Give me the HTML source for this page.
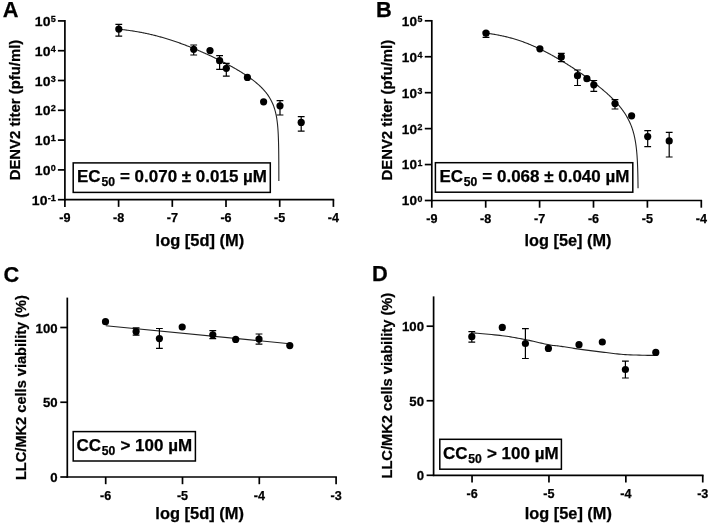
<!DOCTYPE html>
<html><head><meta charset="utf-8"><style>
html,body{margin:0;padding:0;background:#fff;}
body{width:710px;height:524px;overflow:hidden;}
svg{display:block;filter:blur(0.35px);}
text{font-family:"Liberation Sans", sans-serif;font-weight:bold;fill:#000;stroke:#000;stroke-width:0.25px;}
</style></head><body>
<svg width="710" height="524" viewBox="0 0 710 524">
<rect width="710" height="524" fill="#fff"/>
<text transform="translate(2.80,17.30)" font-size="21.8" text-anchor="start">A</text>
<text transform="translate(20.00,110.05) rotate(-90)" font-size="15.2" text-anchor="middle" textLength="140.6" lengthAdjust="spacingAndGlyphs">DENV2 titer (pfu/ml)</text>
<line x1="57.90" y1="20.90" x2="64.90" y2="20.90" stroke="#000" stroke-width="1.7"/>
<text transform="translate(55.80,25.90) scale(1.03,1)" font-size="13.6" text-anchor="end">10<tspan font-size="8.8" dx="0.3" dy="-4.0">5</tspan></text>
<line x1="57.90" y1="50.70" x2="64.90" y2="50.70" stroke="#000" stroke-width="1.7"/>
<text transform="translate(55.80,55.70) scale(1.03,1)" font-size="13.6" text-anchor="end">10<tspan font-size="8.8" dx="0.3" dy="-4.0">4</tspan></text>
<line x1="57.90" y1="80.50" x2="64.90" y2="80.50" stroke="#000" stroke-width="1.7"/>
<text transform="translate(55.80,85.50) scale(1.03,1)" font-size="13.6" text-anchor="end">10<tspan font-size="8.8" dx="0.3" dy="-4.0">3</tspan></text>
<line x1="57.90" y1="110.30" x2="64.90" y2="110.30" stroke="#000" stroke-width="1.7"/>
<text transform="translate(55.80,115.30) scale(1.03,1)" font-size="13.6" text-anchor="end">10<tspan font-size="8.8" dx="0.3" dy="-4.0">2</tspan></text>
<line x1="57.90" y1="140.10" x2="64.90" y2="140.10" stroke="#000" stroke-width="1.7"/>
<text transform="translate(55.80,145.10) scale(1.03,1)" font-size="13.6" text-anchor="end">10<tspan font-size="8.8" dx="0.3" dy="-4.0">1</tspan></text>
<line x1="57.90" y1="169.90" x2="64.90" y2="169.90" stroke="#000" stroke-width="1.7"/>
<text transform="translate(55.80,174.90) scale(1.03,1)" font-size="13.6" text-anchor="end">10<tspan font-size="8.8" dx="0.3" dy="-4.0">0</tspan></text>
<line x1="57.90" y1="199.70" x2="64.90" y2="199.70" stroke="#000" stroke-width="1.7"/>
<text transform="translate(55.80,204.70) scale(1.03,1)" font-size="13.6" text-anchor="end">10<tspan font-size="8.8" dx="0.3" dy="-4.0">-1</tspan></text>
<line x1="64.90" y1="20.10" x2="64.90" y2="200.50" stroke="#000" stroke-width="1.7"/>
<line x1="64.10" y1="199.70" x2="334.20" y2="199.70" stroke="#000" stroke-width="1.7"/>
<line x1="64.90" y1="199.70" x2="64.90" y2="206.90" stroke="#000" stroke-width="1.7"/>
<text transform="translate(64.90,222.00)" font-size="12.6" text-anchor="middle">-9</text>
<line x1="118.60" y1="199.70" x2="118.60" y2="206.90" stroke="#000" stroke-width="1.7"/>
<text transform="translate(118.60,222.00)" font-size="12.6" text-anchor="middle">-8</text>
<line x1="172.30" y1="199.70" x2="172.30" y2="206.90" stroke="#000" stroke-width="1.7"/>
<text transform="translate(172.30,222.00)" font-size="12.6" text-anchor="middle">-7</text>
<line x1="226.00" y1="199.70" x2="226.00" y2="206.90" stroke="#000" stroke-width="1.7"/>
<text transform="translate(226.00,222.00)" font-size="12.6" text-anchor="middle">-6</text>
<line x1="279.70" y1="199.70" x2="279.70" y2="206.90" stroke="#000" stroke-width="1.7"/>
<text transform="translate(279.70,222.00)" font-size="12.6" text-anchor="middle">-5</text>
<line x1="333.40" y1="199.70" x2="333.40" y2="206.90" stroke="#000" stroke-width="1.7"/>
<text transform="translate(333.40,222.00)" font-size="12.6" text-anchor="middle">-4</text>
<text transform="translate(199.90,245.60)" font-size="16.2" text-anchor="middle" textLength="88.6" lengthAdjust="spacingAndGlyphs">log [5d] (M)</text>
<path d="M118.60 29.16 L119.40 29.25 L120.20 29.34 L121.00 29.43 L121.81 29.52 L122.61 29.61 L123.41 29.71 L124.21 29.81 L125.01 29.91 L125.81 30.01 L126.62 30.11 L127.42 30.22 L128.22 30.33 L129.02 30.44 L129.82 30.55 L130.62 30.67 L131.42 30.79 L132.23 30.91 L133.03 31.03 L133.83 31.16 L134.63 31.29 L135.43 31.42 L136.23 31.55 L137.03 31.69 L137.84 31.83 L138.64 31.97 L139.44 32.12 L140.24 32.26 L141.04 32.41 L141.84 32.57 L142.65 32.72 L143.45 32.88 L144.25 33.04 L145.05 33.21 L145.85 33.37 L146.65 33.54 L147.45 33.72 L148.26 33.89 L149.06 34.07 L149.86 34.25 L150.66 34.43 L151.46 34.62 L152.26 34.81 L153.06 35.00 L153.87 35.20 L154.67 35.40 L155.47 35.60 L156.27 35.81 L157.07 36.01 L157.87 36.22 L158.68 36.44 L159.48 36.66 L160.28 36.87 L161.08 37.10 L161.88 37.32 L162.68 37.55 L163.48 37.78 L164.29 38.02 L165.09 38.25 L165.89 38.49 L166.69 38.74 L167.49 38.98 L168.29 39.23 L169.09 39.48 L169.90 39.73 L170.70 39.99 L171.46 40.24 L172.22 40.49 L172.98 40.74 L173.74 40.99 L174.51 41.25 L175.27 41.51 L176.03 41.77 L176.79 42.03 L177.55 42.30 L178.31 42.57 L179.07 42.84 L179.84 43.11 L180.60 43.38 L181.36 43.66 L182.12 43.94 L182.88 44.22 L183.64 44.51 L184.40 44.79 L185.17 45.08 L185.93 45.37 L186.69 45.67 L187.45 45.96 L188.21 46.26 L188.97 46.56 L189.73 46.86 L190.50 47.16 L191.26 47.47 L192.02 47.78 L192.78 48.09 L193.54 48.40 L194.30 48.71 L195.06 49.03 L195.83 49.35 L196.59 49.67 L197.35 49.99 L198.11 50.31 L198.87 50.64 L199.63 50.96 L200.39 51.29 L201.16 51.63 L201.92 51.96 L202.68 52.29 L203.44 52.63 L204.20 52.97 L204.96 53.31 L205.72 53.65 L206.49 54.00 L207.25 54.35 L208.01 54.69 L208.77 55.05 L209.53 55.40 L210.29 55.75 L211.05 56.11 L211.82 56.47 L212.58 56.83 L213.34 57.19 L214.10 57.55 L214.82 57.90 L215.54 58.25 L216.26 58.60 L216.98 58.95 L217.71 59.31 L218.43 59.66 L219.15 60.02 L219.87 60.38 L220.59 60.74 L221.31 61.11 L222.03 61.48 L222.76 61.84 L223.48 62.21 L224.20 62.59 L224.92 62.96 L225.64 63.34 L226.36 63.72 L227.08 64.10 L227.81 64.48 L228.53 64.87 L229.25 65.26 L229.97 65.65 L230.69 66.05 L231.41 66.44 L232.13 66.84 L232.85 67.25 L233.58 67.65 L234.30 68.06 L235.02 68.47 L235.74 68.89 L236.46 69.31 L237.18 69.73 L237.90 70.15 L238.63 70.58 L239.35 71.02 L240.07 71.45 L240.79 71.89 L241.47 72.31 L242.15 72.74 L242.83 73.17 L243.51 73.60 L244.20 74.04 L244.88 74.48 L245.56 74.93 L246.24 75.38 L246.92 75.84 L247.60 76.30 L248.28 76.77 L248.97 77.24 L249.65 77.72 L250.33 78.21 L251.01 78.70 L251.69 79.20 L252.33 79.68 L252.97 80.17 L253.61 80.66 L254.25 81.16 L254.90 81.67 L255.54 82.19 L256.18 82.72 L256.82 83.26 L257.46 83.81 L258.10 84.37 L258.70 84.90 L259.30 85.45 L259.91 86.01 L260.51 86.58 L261.11 87.16 L261.71 87.76 L262.27 88.34 L262.83 88.92 L263.39 89.53 L263.95 90.15 L264.51 90.78 L265.04 91.39 L265.56 92.02 L266.08 92.67 L266.60 93.33 L267.12 94.02 L267.60 94.68 L268.08 95.37 L268.56 96.08 L269.00 96.75 L269.44 97.45 L269.88 98.18 L270.33 98.94 L270.73 99.65 L271.13 100.40 L271.53 101.19 L271.89 101.93 L272.25 102.70 L272.61 103.51 L272.93 104.27 L273.25 105.06 L273.57 105.90 L273.85 106.67 L274.13 107.48 L274.41 108.34 L274.65 109.11 L274.89 109.93 L275.13 110.79 L275.37 111.71 L275.58 112.52 L275.78 113.37 L275.98 114.28 L276.18 115.26 L276.34 116.09 L276.50 116.97 L276.66 117.91 L276.82 118.91 L276.94 119.72 L277.06 120.58 L277.18 121.49 L277.30 122.47 L277.42 123.52 L277.54 124.66 L277.62 125.48 L277.70 126.35 L277.78 127.27 L277.86 128.27 L277.94 129.35 L278.02 130.52 L278.10 131.81 L278.18 133.23 L278.26 134.83 L278.30 135.71 L278.34 136.64 L278.38 137.65 L278.42 138.75 L278.46 139.94 L278.50 141.25 L278.54 142.71 L278.58 144.35 L278.62 146.23 L278.66 148.42 L278.70 151.06 L278.74 154.37 L278.78 158.83 L278.82 165.66 L278.86 181.00" stroke="#222" stroke-width="1.1" fill="none" stroke-linejoin="round"/>
<rect x="73.20" y="162.90" width="197.10" height="29.50" fill="#fff" stroke="#000" stroke-width="1.5"/>
<text transform="translate(77.00,182.30)" font-size="16.8" textLength="190.0" lengthAdjust="spacingAndGlyphs">EC<tspan font-size="12.0" dx="0.8" dy="4.0">50</tspan><tspan dx="0.3" dy="-4.0"> = 0.070 ± 0.015 µM</tspan></text>
<path d="M118.80 24.40V36.20M115.40 24.40H122.20M115.40 36.20H122.20" stroke="#000" stroke-width="1.2" fill="none"/>
<circle cx="118.80" cy="29.10" r="3.6"/>
<path d="M193.70 45.00V55.00M190.30 45.00H197.10M190.30 55.00H197.10" stroke="#000" stroke-width="1.2" fill="none"/>
<circle cx="193.70" cy="49.30" r="3.6"/>
<circle cx="210.00" cy="50.60" r="3.6"/>
<path d="M219.60 55.60V69.40M216.20 55.60H223.00M216.20 69.40H223.00" stroke="#000" stroke-width="1.2" fill="none"/>
<circle cx="219.60" cy="60.70" r="3.6"/>
<path d="M226.30 63.30V76.10M222.90 63.30H229.70M222.90 76.10H229.70" stroke="#000" stroke-width="1.2" fill="none"/>
<circle cx="226.30" cy="68.30" r="3.6"/>
<circle cx="247.40" cy="77.40" r="3.6"/>
<circle cx="263.60" cy="101.80" r="3.6"/>
<path d="M280.00 100.70V115.00M276.60 100.70H283.40M276.60 115.00H283.40" stroke="#000" stroke-width="1.2" fill="none"/>
<circle cx="280.00" cy="105.80" r="3.6"/>
<path d="M301.20 116.70V131.10M297.80 116.70H304.60M297.80 131.10H304.60" stroke="#000" stroke-width="1.2" fill="none"/>
<circle cx="301.20" cy="122.40" r="3.6"/>
<text transform="translate(376.00,17.20)" font-size="21.8" text-anchor="start">B</text>
<text transform="translate(391.90,110.20) rotate(-90)" font-size="15.2" text-anchor="middle" textLength="140.6" lengthAdjust="spacingAndGlyphs">DENV2 titer (pfu/ml)</text>
<line x1="424.80" y1="20.80" x2="431.80" y2="20.80" stroke="#000" stroke-width="1.7"/>
<text transform="translate(422.50,25.70) scale(1.03,1)" font-size="13.2" text-anchor="end">10<tspan font-size="8.6" dx="0.6" dy="-3.5">5</tspan></text>
<line x1="424.80" y1="56.74" x2="431.80" y2="56.74" stroke="#000" stroke-width="1.7"/>
<text transform="translate(422.50,61.64) scale(1.03,1)" font-size="13.2" text-anchor="end">10<tspan font-size="8.6" dx="0.6" dy="-3.5">4</tspan></text>
<line x1="424.80" y1="92.68" x2="431.80" y2="92.68" stroke="#000" stroke-width="1.7"/>
<text transform="translate(422.50,97.58) scale(1.03,1)" font-size="13.2" text-anchor="end">10<tspan font-size="8.6" dx="0.6" dy="-3.5">3</tspan></text>
<line x1="424.80" y1="128.62" x2="431.80" y2="128.62" stroke="#000" stroke-width="1.7"/>
<text transform="translate(422.50,133.52) scale(1.03,1)" font-size="13.2" text-anchor="end">10<tspan font-size="8.6" dx="0.6" dy="-3.5">2</tspan></text>
<line x1="424.80" y1="164.56" x2="431.80" y2="164.56" stroke="#000" stroke-width="1.7"/>
<text transform="translate(422.50,169.46) scale(1.03,1)" font-size="13.2" text-anchor="end">10<tspan font-size="8.6" dx="0.6" dy="-3.5">1</tspan></text>
<line x1="424.80" y1="200.50" x2="431.80" y2="200.50" stroke="#000" stroke-width="1.7"/>
<text transform="translate(422.50,205.40) scale(1.03,1)" font-size="13.2" text-anchor="end">10<tspan font-size="8.6" dx="0.6" dy="-3.5">0</tspan></text>
<line x1="431.80" y1="20.00" x2="431.80" y2="201.30" stroke="#000" stroke-width="1.7"/>
<line x1="431.00" y1="200.50" x2="702.10" y2="200.50" stroke="#000" stroke-width="1.7"/>
<line x1="431.80" y1="200.50" x2="431.80" y2="207.70" stroke="#000" stroke-width="1.7"/>
<text transform="translate(431.80,222.70)" font-size="12.6" text-anchor="middle">-9</text>
<line x1="485.70" y1="200.50" x2="485.70" y2="207.70" stroke="#000" stroke-width="1.7"/>
<text transform="translate(485.70,222.70)" font-size="12.6" text-anchor="middle">-8</text>
<line x1="539.60" y1="200.50" x2="539.60" y2="207.70" stroke="#000" stroke-width="1.7"/>
<text transform="translate(539.60,222.70)" font-size="12.6" text-anchor="middle">-7</text>
<line x1="593.50" y1="200.50" x2="593.50" y2="207.70" stroke="#000" stroke-width="1.7"/>
<text transform="translate(593.50,222.70)" font-size="12.6" text-anchor="middle">-6</text>
<line x1="647.40" y1="200.50" x2="647.40" y2="207.70" stroke="#000" stroke-width="1.7"/>
<text transform="translate(647.40,222.70)" font-size="12.6" text-anchor="middle">-5</text>
<line x1="701.30" y1="200.50" x2="701.30" y2="207.70" stroke="#000" stroke-width="1.7"/>
<text transform="translate(701.30,222.70)" font-size="12.6" text-anchor="middle">-4</text>
<text transform="translate(568.00,245.60)" font-size="16.2" text-anchor="middle" textLength="86.9" lengthAdjust="spacingAndGlyphs">log [5e] (M)</text>
<path d="M485.70 33.10 L486.50 33.20 L487.30 33.30 L488.10 33.41 L488.90 33.52 L489.70 33.64 L490.50 33.75 L491.30 33.87 L492.10 34.00 L492.90 34.12 L493.70 34.26 L494.50 34.39 L495.30 34.53 L496.10 34.67 L496.90 34.81 L497.70 34.96 L498.50 35.11 L499.30 35.27 L500.10 35.43 L500.90 35.59 L501.70 35.76 L502.50 35.93 L503.30 36.11 L504.10 36.29 L504.90 36.47 L505.70 36.66 L506.50 36.85 L507.30 37.05 L508.10 37.25 L508.90 37.45 L509.70 37.66 L510.50 37.88 L511.30 38.10 L512.10 38.32 L512.90 38.55 L513.70 38.78 L514.50 39.02 L515.30 39.26 L516.10 39.51 L516.90 39.76 L517.70 40.02 L518.46 40.26 L519.22 40.52 L519.99 40.77 L520.75 41.03 L521.51 41.30 L522.27 41.57 L523.03 41.84 L523.80 42.12 L524.56 42.41 L525.32 42.69 L526.08 42.98 L526.84 43.28 L527.61 43.58 L528.37 43.88 L529.13 44.19 L529.89 44.50 L530.65 44.82 L531.42 45.14 L532.18 45.47 L532.94 45.80 L533.70 46.13 L534.46 46.47 L535.23 46.81 L535.99 47.15 L536.75 47.50 L537.51 47.85 L538.27 48.21 L539.00 48.55 L539.72 48.90 L540.44 49.25 L541.17 49.60 L541.89 49.96 L542.62 50.32 L543.34 50.68 L544.06 51.05 L544.79 51.42 L545.51 51.79 L546.24 52.16 L546.96 52.54 L547.68 52.92 L548.41 53.31 L549.13 53.70 L549.85 54.09 L550.58 54.48 L551.30 54.88 L552.03 55.28 L552.75 55.68 L553.47 56.08 L554.20 56.49 L554.92 56.90 L555.65 57.32 L556.37 57.73 L557.09 58.15 L557.82 58.57 L558.54 59.00 L559.26 59.42 L559.99 59.85 L560.71 60.28 L561.44 60.72 L562.12 61.13 L562.81 61.54 L563.49 61.96 L564.18 62.38 L564.86 62.80 L565.55 63.23 L566.24 63.65 L566.92 64.08 L567.61 64.51 L568.29 64.95 L568.98 65.38 L569.66 65.82 L570.35 66.26 L571.04 66.70 L571.72 67.14 L572.41 67.58 L573.09 68.03 L573.78 68.48 L574.46 68.93 L575.15 69.38 L575.84 69.84 L576.52 70.30 L577.21 70.76 L577.89 71.22 L578.58 71.68 L579.27 72.15 L579.95 72.62 L580.64 73.09 L581.32 73.56 L582.01 74.03 L582.69 74.51 L583.38 74.99 L584.07 75.47 L584.75 75.96 L585.44 76.44 L586.12 76.93 L586.81 77.43 L587.49 77.92 L588.18 78.42 L588.83 78.89 L589.47 79.36 L590.12 79.84 L590.77 80.32 L591.42 80.80 L592.07 81.28 L592.71 81.77 L593.36 82.26 L594.01 82.75 L594.66 83.25 L595.30 83.75 L595.95 84.25 L596.60 84.76 L597.25 85.26 L597.89 85.78 L598.54 86.29 L599.19 86.81 L599.84 87.33 L600.48 87.86 L601.13 88.39 L601.78 88.93 L602.43 89.47 L603.08 90.01 L603.72 90.56 L604.33 91.08 L604.94 91.61 L605.55 92.14 L606.16 92.67 L606.77 93.21 L607.38 93.76 L607.99 94.31 L608.60 94.87 L609.21 95.43 L609.82 96.00 L610.43 96.57 L611.04 97.16 L611.65 97.75 L612.22 98.31 L612.79 98.87 L613.36 99.45 L613.93 100.03 L614.50 100.62 L615.08 101.22 L615.65 101.83 L616.22 102.44 L616.79 103.07 L617.36 103.71 L617.90 104.31 L618.43 104.93 L618.96 105.55 L619.50 106.19 L620.03 106.84 L620.56 107.50 L621.10 108.18 L621.59 108.82 L622.09 109.47 L622.58 110.14 L623.08 110.82 L623.57 111.52 L624.03 112.19 L624.49 112.86 L624.94 113.56 L625.40 114.27 L625.86 115.00 L626.28 115.69 L626.70 116.40 L627.11 117.13 L627.53 117.88 L627.95 118.65 L628.33 119.38 L628.71 120.13 L629.10 120.90 L629.48 121.71 L629.82 122.45 L630.16 123.22 L630.50 124.02 L630.85 124.86 L631.15 125.62 L631.46 126.42 L631.76 127.25 L632.07 128.11 L632.33 128.90 L632.60 129.71 L632.87 130.57 L633.13 131.46 L633.36 132.26 L633.59 133.10 L633.82 133.97 L634.05 134.88 L634.24 135.68 L634.43 136.52 L634.62 137.39 L634.81 138.31 L635.00 139.28 L635.15 140.09 L635.31 140.95 L635.46 141.84 L635.61 142.79 L635.76 143.79 L635.91 144.85 L636.03 145.69 L636.14 146.57 L636.26 147.50 L636.37 148.49 L636.49 149.54 L636.60 150.66 L636.71 151.85 L636.79 152.70 L636.87 153.60 L636.94 154.54 L637.02 155.55 L637.10 156.62 L637.17 157.76 L637.25 159.00 L637.32 160.33 L637.40 161.78 L637.48 163.37 L637.51 164.24 L637.55 165.15 L637.59 166.11 L637.63 167.14 L637.67 168.23 L637.71 169.41 L637.74 170.68 L637.78 172.07 L637.82 173.58 L637.86 175.26 L637.90 177.13 L637.93 179.26 L637.97 181.71 L638.01 184.62 L638.05 188.20" stroke="#222" stroke-width="1.1" fill="none" stroke-linejoin="round"/>
<rect x="435.40" y="162.70" width="197.40" height="29.50" fill="#fff" stroke="#000" stroke-width="1.5"/>
<text transform="translate(439.40,182.30)" font-size="16.8" textLength="190.0" lengthAdjust="spacingAndGlyphs">EC<tspan font-size="12.0" dx="0.8" dy="4.0">50</tspan><tspan dx="0.3" dy="-4.0"> = 0.068 ± 0.040 µM</tspan></text>
<path d="M486.00 32.20V37.40M482.60 32.20H489.40M482.60 37.40H489.40" stroke="#000" stroke-width="1.2" fill="none"/>
<circle cx="486.00" cy="33.20" r="3.6"/>
<circle cx="539.90" cy="48.80" r="3.6"/>
<path d="M561.30 53.30V61.60M557.90 53.30H564.70M557.90 61.60H564.70" stroke="#000" stroke-width="1.2" fill="none"/>
<circle cx="561.30" cy="56.90" r="3.6"/>
<path d="M577.50 70.00V85.50M574.10 70.00H580.90M574.10 85.50H580.90" stroke="#000" stroke-width="1.2" fill="none"/>
<circle cx="577.50" cy="75.70" r="3.6"/>
<circle cx="586.90" cy="78.70" r="3.6"/>
<path d="M593.80 80.50V91.40M590.40 80.50H597.20M590.40 91.40H597.20" stroke="#000" stroke-width="1.2" fill="none"/>
<circle cx="593.80" cy="84.80" r="3.6"/>
<path d="M615.00 99.60V109.00M611.60 99.60H618.40M611.60 109.00H618.40" stroke="#000" stroke-width="1.2" fill="none"/>
<circle cx="615.00" cy="103.60" r="3.6"/>
<circle cx="631.60" cy="115.80" r="3.6"/>
<path d="M647.70 130.60V146.60M644.30 130.60H651.10M644.30 146.60H651.10" stroke="#000" stroke-width="1.2" fill="none"/>
<circle cx="647.70" cy="136.60" r="3.6"/>
<path d="M669.20 132.40V157.00M665.80 132.40H672.60M665.80 157.00H672.60" stroke="#000" stroke-width="1.2" fill="none"/>
<circle cx="669.20" cy="140.90" r="3.6"/>
<text transform="translate(3.60,281.90)" font-size="21.8" text-anchor="start">C</text>
<text transform="translate(26.00,387.55) rotate(-90)" font-size="15.2" text-anchor="middle" textLength="185.0" lengthAdjust="spacingAndGlyphs">LLC/MK2 cells viability (%)</text>
<line x1="60.30" y1="477.00" x2="67.30" y2="477.00" stroke="#000" stroke-width="1.7"/>
<text transform="translate(57.60,482.10) scale(1.03,1)" font-size="12.8" text-anchor="end">0</text>
<line x1="60.30" y1="402.25" x2="67.30" y2="402.25" stroke="#000" stroke-width="1.7"/>
<text transform="translate(57.60,407.35) scale(1.03,1)" font-size="12.8" text-anchor="end">50</text>
<line x1="60.30" y1="327.50" x2="67.30" y2="327.50" stroke="#000" stroke-width="1.7"/>
<text transform="translate(57.60,332.60) scale(1.03,1)" font-size="12.8" text-anchor="end">100</text>
<line x1="67.30" y1="297.60" x2="67.30" y2="477.80" stroke="#000" stroke-width="1.7"/>
<line x1="66.50" y1="477.00" x2="336.90" y2="477.00" stroke="#000" stroke-width="1.7"/>
<line x1="105.70" y1="477.00" x2="105.70" y2="484.20" stroke="#000" stroke-width="1.7"/>
<text transform="translate(105.70,499.60)" font-size="12.6" text-anchor="middle">-6</text>
<line x1="182.50" y1="477.00" x2="182.50" y2="484.20" stroke="#000" stroke-width="1.7"/>
<text transform="translate(182.50,499.60)" font-size="12.6" text-anchor="middle">-5</text>
<line x1="259.30" y1="477.00" x2="259.30" y2="484.20" stroke="#000" stroke-width="1.7"/>
<text transform="translate(259.30,499.60)" font-size="12.6" text-anchor="middle">-4</text>
<line x1="336.10" y1="477.00" x2="336.10" y2="484.20" stroke="#000" stroke-width="1.7"/>
<text transform="translate(336.10,499.60)" font-size="12.6" text-anchor="middle">-3</text>
<text transform="translate(199.70,518.80)" font-size="16.2" text-anchor="middle" textLength="88.7" lengthAdjust="spacingAndGlyphs">log [5d] (M)</text>
<path d="M105.80 325.80 L289.80 343.70" stroke="#222" stroke-width="1.1" fill="none" stroke-linejoin="round"/>
<rect x="73.20" y="431.60" width="122.20" height="29.40" fill="#fff" stroke="#000" stroke-width="1.5"/>
<text transform="translate(76.50,451.20)" font-size="16.8" textLength="115.6" lengthAdjust="spacingAndGlyphs">CC<tspan font-size="12.0" dx="0.8" dy="4.0">50</tspan><tspan dx="0.3" dy="-4.0"> &gt; 100 µM</tspan></text>
<circle cx="105.50" cy="321.70" r="3.6"/>
<path d="M136.10 327.90V335.20M132.70 327.90H139.50M132.70 335.20H139.50" stroke="#000" stroke-width="1.2" fill="none"/>
<circle cx="136.10" cy="331.60" r="3.6"/>
<path d="M159.40 328.50V348.40M156.00 328.50H162.80M156.00 348.40H162.80" stroke="#000" stroke-width="1.2" fill="none"/>
<circle cx="159.40" cy="338.60" r="3.6"/>
<circle cx="182.20" cy="327.00" r="3.6"/>
<path d="M212.80 330.60V338.70M209.40 330.60H216.20M209.40 338.70H216.20" stroke="#000" stroke-width="1.2" fill="none"/>
<circle cx="212.80" cy="334.80" r="3.6"/>
<circle cx="235.70" cy="339.40" r="3.6"/>
<path d="M259.00 334.00V344.10M255.60 334.00H262.40M255.60 344.10H262.40" stroke="#000" stroke-width="1.2" fill="none"/>
<circle cx="259.00" cy="339.10" r="3.6"/>
<circle cx="289.80" cy="345.60" r="3.6"/>
<text transform="translate(371.90,281.00)" font-size="21.8" text-anchor="start">D</text>
<text transform="translate(392.30,385.65) rotate(-90)" font-size="15.2" text-anchor="middle" textLength="185.8" lengthAdjust="spacingAndGlyphs">LLC/MK2 cells viability (%)</text>
<line x1="426.60" y1="475.30" x2="433.60" y2="475.30" stroke="#000" stroke-width="1.7"/>
<text transform="translate(424.00,480.40) scale(1.03,1)" font-size="12.8" text-anchor="end">0</text>
<line x1="426.60" y1="400.75" x2="433.60" y2="400.75" stroke="#000" stroke-width="1.7"/>
<text transform="translate(424.00,405.85) scale(1.03,1)" font-size="12.8" text-anchor="end">50</text>
<line x1="426.60" y1="326.20" x2="433.60" y2="326.20" stroke="#000" stroke-width="1.7"/>
<text transform="translate(424.00,331.30) scale(1.03,1)" font-size="12.8" text-anchor="end">100</text>
<line x1="433.60" y1="296.38" x2="433.60" y2="476.10" stroke="#000" stroke-width="1.7"/>
<line x1="432.80" y1="475.30" x2="703.55" y2="475.30" stroke="#000" stroke-width="1.7"/>
<line x1="472.05" y1="475.30" x2="472.05" y2="482.50" stroke="#000" stroke-width="1.7"/>
<text transform="translate(472.05,497.90)" font-size="12.6" text-anchor="middle">-6</text>
<line x1="548.95" y1="475.30" x2="548.95" y2="482.50" stroke="#000" stroke-width="1.7"/>
<text transform="translate(548.95,497.90)" font-size="12.6" text-anchor="middle">-5</text>
<line x1="625.85" y1="475.30" x2="625.85" y2="482.50" stroke="#000" stroke-width="1.7"/>
<text transform="translate(625.85,497.90)" font-size="12.6" text-anchor="middle">-4</text>
<line x1="702.75" y1="475.30" x2="702.75" y2="482.50" stroke="#000" stroke-width="1.7"/>
<text transform="translate(702.75,497.90)" font-size="12.6" text-anchor="middle">-3</text>
<text transform="translate(568.30,518.50)" font-size="16.2" text-anchor="middle" textLength="87.1" lengthAdjust="spacingAndGlyphs">log [5e] (M)</text>
<path d="M471.80 332.80 L473.30 332.94 L475.20 333.10 L477.45 333.30 L479.98 333.51 L482.72 333.75 L485.61 334.01 L488.57 334.27 L491.55 334.55 L494.48 334.84 L497.29 335.13 L499.92 335.41 L502.30 335.70 L504.49 335.99 L506.59 336.28 L508.61 336.58 L510.57 336.89 L512.48 337.20 L514.35 337.52 L516.19 337.85 L518.02 338.18 L519.84 338.52 L521.67 338.87 L523.52 339.23 L525.40 339.60 L527.33 339.99 L529.31 340.41 L531.31 340.85 L533.33 341.31 L535.34 341.78 L537.34 342.24 L539.29 342.70 L541.19 343.14 L543.02 343.56 L544.76 343.95 L546.39 344.30 L547.90 344.60 L549.25 344.85 L550.44 345.05 L551.49 345.21 L552.44 345.34 L553.32 345.44 L554.16 345.53 L554.99 345.61 L555.83 345.70 L556.73 345.79 L557.70 345.90 L558.78 346.03 L560.00 346.20 L561.33 346.40 L562.73 346.61 L564.19 346.83 L565.70 347.07 L567.25 347.31 L568.86 347.56 L570.50 347.82 L572.17 348.08 L573.87 348.34 L575.60 348.60 L577.34 348.85 L579.10 349.10 L580.89 349.35 L582.73 349.60 L584.61 349.85 L586.53 350.11 L588.48 350.37 L590.45 350.63 L592.43 350.88 L594.42 351.13 L596.41 351.38 L598.39 351.63 L600.36 351.87 L602.30 352.10 L604.21 352.33 L606.07 352.56 L607.91 352.80 L609.74 353.03 L611.56 353.26 L613.40 353.48 L615.26 353.70 L617.16 353.90 L619.11 354.10 L621.13 354.28 L623.22 354.45 L625.40 354.60 L627.77 354.73 L630.40 354.85 L633.20 354.96 L636.12 355.05 L639.09 355.13 L642.04 355.21 L644.92 355.27 L647.65 355.33 L650.17 355.38 L652.41 355.42 L654.31 355.46 L655.80 355.50" stroke="#222" stroke-width="1.1" fill="none" stroke-linejoin="round"/>
<rect x="439.80" y="439.30" width="121.60" height="29.90" fill="#fff" stroke="#000" stroke-width="1.5"/>
<text transform="translate(443.00,459.30)" font-size="16.8" textLength="115.6" lengthAdjust="spacingAndGlyphs">CC<tspan font-size="12.0" dx="0.8" dy="4.0">50</tspan><tspan dx="0.3" dy="-4.0"> &gt; 100 µM</tspan></text>
<path d="M471.80 331.60V342.10M468.40 331.60H475.20M468.40 342.10H475.20" stroke="#000" stroke-width="1.2" fill="none"/>
<circle cx="471.80" cy="336.70" r="3.6"/>
<circle cx="502.30" cy="327.40" r="3.6"/>
<path d="M525.40 328.60V358.50M522.00 328.60H528.80M522.00 358.50H528.80" stroke="#000" stroke-width="1.2" fill="none"/>
<circle cx="525.40" cy="343.50" r="3.6"/>
<circle cx="548.40" cy="348.40" r="3.6"/>
<circle cx="579.00" cy="344.70" r="3.6"/>
<circle cx="602.30" cy="342.00" r="3.6"/>
<path d="M625.40 361.10V378.00M622.00 361.10H628.80M622.00 378.00H628.80" stroke="#000" stroke-width="1.2" fill="none"/>
<circle cx="625.40" cy="369.50" r="3.6"/>
<circle cx="655.80" cy="352.40" r="3.6"/>
</svg>
</body></html>
